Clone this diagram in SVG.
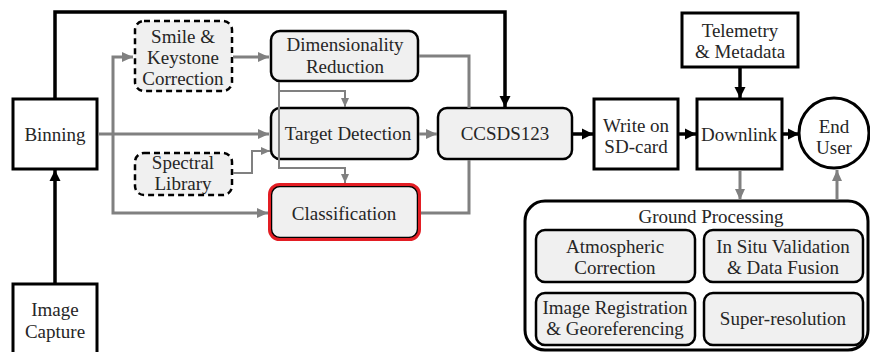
<svg xmlns="http://www.w3.org/2000/svg" width="870" height="352" viewBox="0 0 870 352">
<style>
text{font-family:"Liberation Serif","Times New Roman",serif;font-size:19px;fill:#262626;text-anchor:middle}
.box{fill:#fff;stroke:#000;stroke-width:3}
.rbox{fill:#f0f0f0;stroke:#000;stroke-width:2.5}
.dbox{fill:#f0f0f0;stroke:#000;stroke-width:2.5;stroke-dasharray:6 4}
.blk{fill:none;stroke:#000;stroke-width:3.5}
.gry{fill:none;stroke:#808080;stroke-width:3}
.gthin{fill:none;stroke:#808080;stroke-width:2}
</style>
<defs>
<marker id="ab" markerUnits="userSpaceOnUse" markerWidth="12" markerHeight="12" refX="11" refY="6" orient="auto"><path d="M0,0.5 L11,6 L0,11.5 z" fill="#000"/></marker>
<marker id="ag" markerUnits="userSpaceOnUse" markerWidth="12" markerHeight="12" refX="11" refY="6" orient="auto"><path d="M0,1 L11,6 L0,11 z" fill="#808080"/></marker>
<marker id="ags" markerUnits="userSpaceOnUse" markerWidth="10" markerHeight="10" refX="9" refY="5" orient="auto"><path d="M0,1 L9,5 L0,9 z" fill="#808080"/></marker>
</defs>

<g id="image-capture"><rect class="box" x="13" y="284" width="84" height="80"/><text x="55" y="316">Image</text><text x="55" y="338">Capture</text></g>
<g id="binning"><rect class="box" x="13" y="99" width="84" height="70"/><text x="55" y="141">Binning</text></g>
<g id="smile"><rect class="dbox" x="135" y="21" width="97" height="70" rx="9"/><text x="183" y="43">Smile &amp;</text><text x="183" y="64">Keystone</text><text x="183" y="85">Correction</text></g>
<g id="spectral"><rect class="dbox" x="135" y="153" width="97" height="42" rx="9"/><text x="183" y="169">Spectral</text><text x="183" y="190">Library</text></g>
<g id="dimred"><rect class="rbox" x="271" y="31" width="147" height="50" rx="9"/><text x="345" y="51">Dimensionality</text><text x="345" y="73">Reduction</text></g>
<g id="target"><rect class="rbox" x="271" y="108" width="147" height="51" rx="9"/><text x="348" y="140">Target Detection</text></g>
<g id="classification"><rect class="rbox" x="271" y="186" width="147" height="52" rx="9"/><rect x="269.5" y="184.5" width="150" height="55" rx="10" fill="none" stroke="#e31e24" stroke-width="3"/><text x="344" y="220">Classification</text></g>
<g id="ccsds"><rect class="rbox" x="438" y="108" width="134" height="51" rx="9"/><text x="505" y="140">CCSDS123</text></g>
<g id="sdcard"><rect class="box" x="594" y="99" width="84" height="70"/><text x="636" y="132">Write on</text><text x="636" y="153">SD-card</text></g>
<g id="downlink"><rect class="box" x="697" y="99" width="85" height="70"/><text x="739" y="141">Downlink</text></g>
<g id="telemetry"><rect class="box" x="682" y="13" width="116" height="54"/><text x="740" y="37">Telemetry</text><text x="740" y="58">&amp; Metadata</text></g>
<g id="enduser"><circle cx="834" cy="133" r="35" fill="#fff" stroke="#000" stroke-width="3"/><text x="834" y="133">End</text><text x="834" y="154">User</text></g>
<g id="ground"><rect x="525" y="201" width="343" height="149" rx="20" fill="#fff" stroke="#000" stroke-width="3"/><text x="711" y="223">Ground Processing</text>
<g id="atmos"><rect class="rbox" x="536" y="230" width="159" height="52" rx="9"/><text x="615" y="253">Atmospheric</text><text x="615" y="274">Correction</text></g>
<g id="insitu"><rect class="rbox" x="704" y="230" width="159" height="52" rx="9"/><text x="783" y="253">In Situ Validation</text><text x="783" y="274">&amp; Data Fusion</text></g>
<g id="imgreg"><rect class="rbox" x="536" y="293" width="159" height="52" rx="9"/><text x="615" y="314">Image Registration</text><text x="615" y="335">&amp; Georeferencing</text></g>
<g id="superres"><rect class="rbox" x="704" y="293" width="159" height="52" rx="9"/><text x="783" y="325">Super-resolution</text></g>
</g>

<g id="connectors">
<path class="blk" d="M55,284 L55,170" marker-end="url(#ab)"/>
<path class="blk" d="M55,99 L55,12 L505,12 L505,107" marker-end="url(#ab)"/>
<path class="blk" d="M573,134 L593,134" marker-end="url(#ab)"/>
<path class="blk" d="M679,134 L696,134" marker-end="url(#ab)"/>
<path class="blk" d="M783,134 L799,134" marker-end="url(#ab)"/>
<path class="blk" d="M740,68 L740,98" marker-end="url(#ab)"/>
<path class="gry" d="M98,134 L269,134" marker-end="url(#ag)"/>
<path class="gry" d="M113,134 L113,57 L133,57" marker-end="url(#ag)"/>
<path class="gry" d="M113,134 L113,213 L268,213" marker-end="url(#ag)"/>
<path class="gry" d="M233,57 L269,57" marker-end="url(#ag)"/>
<path class="gry" d="M419,134 L437,134" marker-end="url(#ag)"/>
<path class="gry" d="M419,56 L469,56 L469,108"/>
<path class="gry" d="M421,213 L469,213 L469,160"/>
<path class="gthin" d="M279,82 L279,168 L345,168 L345,183" marker-end="url(#ags)"/>
<path class="gthin" d="M279,91 L345,91 L345,107" marker-end="url(#ags)"/>
<path class="gthin" d="M233,173 L252,173 L252,151 L270,151" marker-end="url(#ags)"/>
<path class="gry" d="M740,170 L740,200" marker-end="url(#ag)"/>
<path class="gry" d="M837,200 L837,170" marker-end="url(#ag)"/>
</g>
</svg>
